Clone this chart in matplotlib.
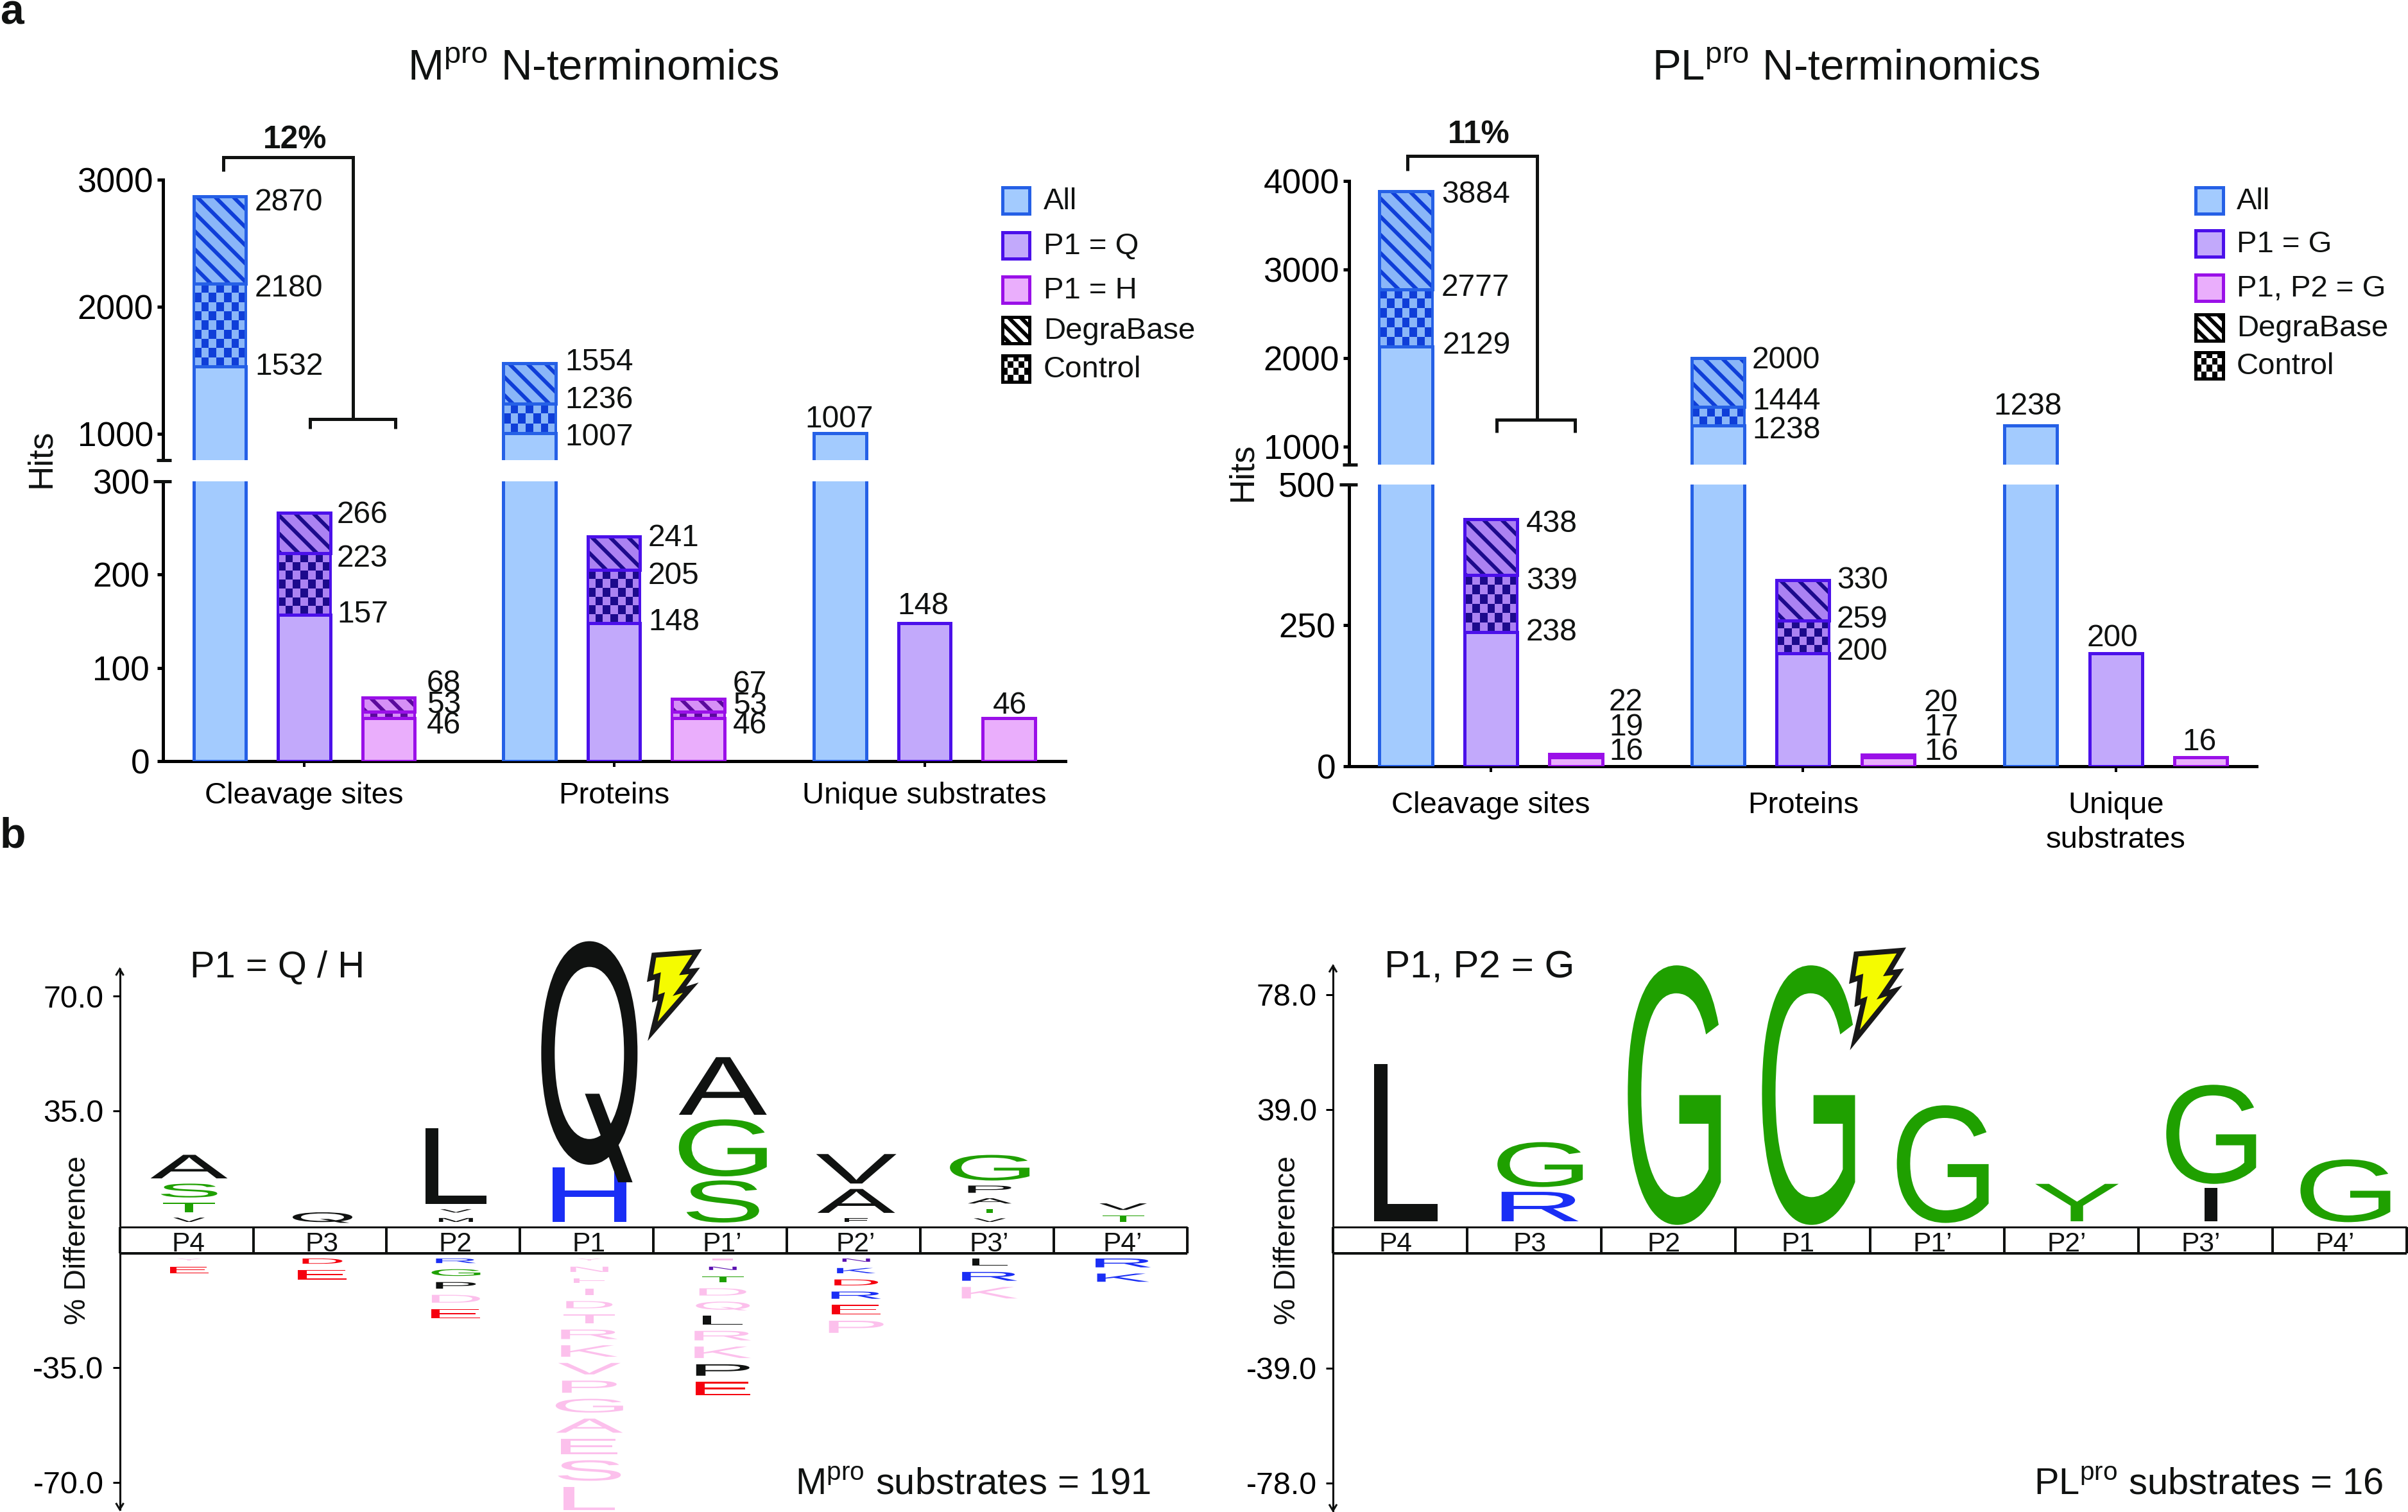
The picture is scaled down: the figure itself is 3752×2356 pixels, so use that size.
import matplotlib
matplotlib.use('Agg')
import matplotlib.pyplot as plt
import numpy as np
from matplotlib.colors import ListedColormap
from matplotlib.font_manager import FontProperties
from matplotlib.patches import PathPatch, Polygon, Rectangle
from matplotlib.textpath import TextPath
from matplotlib.transforms import Affine2D

W, H, DPI = 3752, 2356, 170
PT = 72 / DPI  # one pixel in points

plt.rcParams['font.family'] = ['Liberation Sans', 'DejaVu Sans']
plt.rcParams['mathtext.fontset'] = 'custom'
plt.rcParams['mathtext.rm'] = 'Liberation Sans'
plt.rcParams['hatch.linewidth'] = 6 * PT

# panel a values: one entry per bar, All / P1 / third bar in each group
categories_m = ['Cleavage sites', 'Proteins', 'Unique substrates']
categories_p = ['Cleavage sites', 'Proteins', 'Unique\nsubstrates']
m_base = [1532, 157, 46, 1007, 148, 46, 1007, 148, 46]
m_control = [2180, 223, 53, 1236, 205, 53, None, None, None]
m_degra = [2870, 266, 68, 1554, 241, 67, None, None, None]
p_base = [2129, 238, 16, 1238, 200, 16, 1238, 200, 16]
p_control = [2777, 339, 19, 1444, 259, 17, None, None, None]
p_degra = [3884, 438, 22, 2000, 330, 20, None, None, None]

legend_m = ['All', 'P1 = Q', 'P1 = H', 'DegraBase', 'Control']
legend_p = ['All', 'P1 = G', 'P1, P2 = G', 'DegraBase', 'Control']

# panel b logos, % difference per letter, stacked away from the position box
positions_m = ['P4', 'P3', 'P2', 'P1', 'P1’', 'P2’', 'P3’', 'P4’']
m_up_letters = ['VTSA', 'Q', 'MVL', 'HQ', 'SGA', 'FAV', 'VTAPG', 'TV']
m_up_colors = ['kggk', 'k', 'kkk', 'bk', 'ggk', 'kkk', 'kgkkg', 'gk']
m_up_heights = [[1.3, 2.9, 4.1, 7.2], [2.9], [1.2, 1.0, 23.1], [16.7, 66.5],
                [12.5, 16.9, 17.6], [1.1, 7.3, 9.0], [1.1, 1.2, 1.6, 2.2, 7.6], [2.0, 2.0]]
m_up_widths = [[49, 81, 88, 120], [93], [53, 49, 95], [115, 150],
               [113, 137, 137], [36, 121, 125], [50, 60, 68, 67, 124], [65, 74]]
m_down_letters = ['YE', 'DE', 'RGPDE', 'YNFIDTRKVPGAESL', 'INTDQLRKPE', 'NKDREP', 'LRK', 'RK']
m_down_colors = ['pr', 'rr', 'bgkpr', 'ppppppppppppppp', 'pugppkppkr', 'ubrbrp', 'kbp', 'bb']
m_down_heights = [[0.6, 2.0], [1.6, 2.9], [1.4, 2.0, 2.0, 2.4, 2.9],
                  [0.6, 1.6, 1.4, 1.8, 2.2, 2.7, 2.9, 3.5, 3.5, 3.7, 4.1, 4.3, 4.7, 6.1, 7.1],
                  [0.6, 1.0, 1.8, 2.2, 2.4, 2.7, 2.9, 3.5, 3.5, 4.1],
                  [1.0, 1.6, 1.8, 2.2, 2.9, 3.7], [2.2, 2.7, 3.5], [2.7, 2.5]]
m_down_widths = [[38, 60], [62, 76], [62, 76, 62, 75, 76],
                 [37, 59, 49, 13, 72, 80, 88, 88, 97, 85, 105, 104, 88, 98, 80],
                 [32, 43, 65, 73, 84, 62, 88, 88, 83, 85],
                 [43, 60, 68, 77, 76, 85], [55, 86, 87], [86, 81]]

p_up_letters = ['L', 'RG', 'G', 'G', 'G', 'Y', 'IG', 'G']
p_up_colors = ['k', 'bg', 'g', 'g', 'g', 'g', 'kg', 'g']
p_up_heights = [[53.3], [10.0, 14.8], [85.6], [85.6], [38.8], [12.7], [11.3, 32.7], [20.7]]
p_up_widths = [[99], [120, 133], [145], [145], [143], [130], [20, 140], [140]]

letter_colors = {'k': '#101211', 'g': '#1fa000', 'b': '#1a2ef5', 'r': '#f5000f',
                 'u': '#5a10b0', 'p': '#fcc0ec'}
fills = ['#a3cbfe', '#c2a9fb', '#eaaefc']
hatch_fills = ['#8ab6f8', '#ab82f2', '#d690f6']
edges = ['#2560e6', '#4b10ea', '#9a10e8']
darks = ['#0f3ed8', '#1c0a8c', '#5a0a9c']

fig = plt.figure(figsize=(W / DPI, H / DPI), dpi=DPI)


def add_axes_px(x0, y0, x1, y1):
    return fig.add_axes([x0 / W, 1 - y1 / H, (x1 - x0) / W, (y1 - y0) / H], facecolor='none')


overlay = fig.add_axes([0, 0, 1, 1], zorder=10)
overlay.set_axis_off()


def label(x, cy, s, size, ha='left', **kw):
    # cy is the middle of the capitals, in pixels
    overlay.text(x, cy + 0.358 * size / PT, s, fontsize=size, ha=ha, va='baseline', color='#101211', **kw)


def line(xs, ys, lw=5):
    overlay.plot(xs, ys, color='#101211', lw=lw * PT, solid_capstyle='butt', solid_joinstyle='miter')


def checker(ax, x0, x1, y0, y1, light, dark, cols, rows):
    cells = np.indices((rows, cols)).sum(axis=0) % 2
    ax.imshow(cells, extent=(x0, x1, y0, y1), origin='lower', aspect='auto', interpolation='nearest',
              cmap=ListedColormap([light, dark]), zorder=1)


def bar_panel(axis_x, right_x, group_px, spacing, base_y, low_top_y, low_top, break_y, up_bottom,
              up_top_y, up_top, low_ticks, up_ticks, base, control, degra, categories, cat_pad):
    to_x = lambda px: (px - group_px) / spacing
    groups = [0, 3.67, 7.35]
    low = add_axes_px(axis_x, low_top_y, right_x, base_y)
    up = add_axes_px(axis_x, up_top_y, right_x, break_y)
    scales = [(low, 0, low_top, (base_y - low_top_y) / low_top),
              (up, up_bottom, up_top, (break_y - up_top_y) / (up_top - up_bottom))]
    for ax, y_min, y_max, px_per in scales:
        for i, v in enumerate(base):
            kind = i % 3
            x = groups[i // 3] + kind - 1
            w = 0.62
            ax.bar(x, v, w, color=fills[kind], edgecolor=edges[kind], lw=5 * PT, zorder=3)
            if control[i] is None:
                continue
            if control[i] > y_min and v < y_max:
                rows = max(1, round((control[i] - v) * px_per / 14))
                checker(ax, x - w / 2, x + w / 2, v, control[i], hatch_fills[kind], darks[kind], 7, rows)
            ax.bar(x, control[i] - v, w, bottom=v, color='none', edgecolor=edges[kind], lw=4 * PT, zorder=3)
            ax.bar(x, degra[i] - control[i], w, bottom=control[i], color=hatch_fills[kind],
                   edgecolor=darks[kind], lw=0, hatch='\\\\', zorder=2)
            ax.bar(x, degra[i] - control[i], w, bottom=control[i], color='none',
                   edgecolor=edges[kind], lw=5 * PT, zorder=3)
        ax.set_xlim(to_x(axis_x), to_x(right_x))
        ax.set_ylim(y_min, y_max)
        for s in ['top', 'right']:
            ax.spines[s].set_visible(False)
        ax.spines['left'].set_linewidth(5 * PT)
        ax.spines['bottom'].set_linewidth(5 * PT)
        ax.tick_params(axis='y', labelsize=22.5, length=9 * PT, width=5 * PT, pad=6 * PT)
    up.spines['bottom'].set_visible(False)
    up.set_xticks([])
    up.set_yticks(up_ticks)
    low.set_yticks(low_ticks)
    low.tick_params(axis='y', pad=12 * PT)
    low.set_xticks(groups)
    low.set_xticklabels(categories, fontsize=20, linespacing=1.3)
    low.tick_params(axis='x', length=9 * PT, width=4 * PT, pad=cat_pad * PT)
    # break marks on the axis
    line([axis_x - 10, axis_x + 13], [break_y, break_y])
    line([axis_x - 15, axis_x + 13], [low_top_y, low_top_y])


bar_panel(254, 1660, 474, 131.5, 1186, 750, 300, 717, 793, 280, 3000,
          [0, 100, 200, 300], [1000, 2000, 3000], m_base, m_control, m_degra, categories_m, 23)
bar_panel(2102, 3516, 2323, 132.5, 1194, 755, 500, 723.5, 798, 282, 4000,
          [0, 250, 500], [1000, 2000, 3000, 4000], p_base, p_control, p_degra, categories_p, 30)

# value labels, each stack's label sits beside its bar (x, mid y in pixels)
m_label_xy = [(397, 567), (397, 445), (397, 311), (525, 953), (525, 866), (525, 798),
              (665, 1126), (665, 1094), (665, 1061), (880, 677), (880, 619), (880, 560),
              (1010, 965), (1010, 893), (1010, 834), (1142, 1126), (1142, 1095), (1142, 1062)]
m_label_vals = [m_base[0], m_control[0], m_degra[0], m_base[1], m_control[1], m_degra[1],
                m_base[2], m_control[2], m_degra[2], m_base[3], m_control[3], m_degra[3],
                m_base[4], m_control[4], m_degra[4], m_base[5], m_control[5], m_degra[5]]
p_label_xy = [(2248, 534), (2246, 444), (2246, 299), (2378, 981), (2378, 901), (2378, 812),
              (2507, 1167), (2507, 1129), (2507, 1090), (2730, 666), (2730, 621), (2730, 557),
              (2862, 1011), (2862, 961), (2862, 900), (2998, 1167), (2998, 1129), (2998, 1091)]
p_label_vals = [p_base[0], p_control[0], p_degra[0], p_base[1], p_control[1], p_degra[1],
                p_base[2], p_control[2], p_degra[2], p_base[3], p_control[3], p_degra[3],
                p_base[4], p_control[4], p_degra[4], p_base[5], p_control[5], p_degra[5]]
for (x, y), v in zip(m_label_xy + p_label_xy, m_label_vals + p_label_vals):
    label(x, y, str(v), 20.3)
for x, y, v in [(1308, 649, m_base[6]), (1438, 940, m_base[7]), (1573, 1095, m_base[8]),
                (3160, 629, p_base[6]), (3292, 990, p_base[7]), (3427, 1152, p_base[8])]:
    label(x, y, str(v), 20.3, ha='center')

label(924, 100, 'M$^{\\mathrm{pro}}$ N-terminomics', 28.5, ha='center')
label(2876, 100, 'PL$^{\\mathrm{pro}}$ N-terminomics', 28.5, ha='center')
label(0, 14, 'a', 28, fontweight='bold')
label(0, 1297, 'b', 28, fontweight='bold')
overlay.text(64, 714, 'Hits', fontsize=22.5, rotation=90, ha='center', va='center', color='#101211')
overlay.text(1936, 735, 'Hits', fontsize=22.5, rotation=90, ha='center', va='center', color='#101211')

# brackets
line([348, 348, 550, 550], [267, 245, 245, 653], 5)
line([483, 483, 616, 616], [668, 653, 653, 668], 5)
label(460, 213, '12%', 21, ha='center', fontweight='bold')
line([2193, 2193, 2395, 2395], [266, 243, 243, 654], 5)
line([2332, 2332, 2454, 2454], [674, 654, 654, 674], 5)
label(2304, 205, '11%', 21, ha='center', fontweight='bold')


def legend(x0, x1, text_x, ys, names):
    h = 41
    for i, (y, name) in enumerate(zip(ys, names)):
        if i < 3:
            overlay.add_patch(Rectangle((x0, y - h / 2), x1 - x0, h, fc=fills[i], ec=edges[i], lw=5 * PT))
        elif i == 3:
            overlay.add_patch(Rectangle((x0, y - h / 2), x1 - x0, h, fc='white', ec='black',
                                        lw=5 * PT, hatch='\\\\\\'))
        else:
            cells = np.indices((4, 5)).sum(axis=0) % 2
            overlay.imshow(cells, extent=(x0, x1, y + h / 2, y - h / 2), origin='upper', aspect='auto',
                           cmap='gray', interpolation='nearest')
            overlay.add_patch(Rectangle((x0, y - h / 2), x1 - x0, h, fc='none', ec='black', lw=5 * PT))
        label(text_x, y - 3, name, 20)


legend(1562, 1604, 1626, [312, 382, 451, 514, 574], legend_m)
legend(3421, 3464, 3485, [312, 379, 448, 510, 569], legend_p)


def draw_letter(ax, ch, center, bottom, width, height, color):
    # Liberation's Q has a long curled tail, the picture's has a short straight one
    prop = FontProperties(family='Inter' if ch == 'Q' else 'Liberation Sans')
    path = TextPath((0, 0), ch, size=1, prop=prop)
    cap = TextPath((0, 0), 'H', size=1, prop=prop).get_extents().height
    box = path.get_extents()
    tr = Affine2D().translate(-box.x0, 0).scale(width / box.width, height / cap).translate(center - width / 2, bottom)
    ax.add_patch(PathPatch(tr.transform_path(path), fc=color, lw=0, clip_on=False))


def logo_panel(axis_x, right_x, up_zero, down_zero, top_y, bottom_y, tick, px_per, shift, names,
               up, down, title_text, title_x, title_size, count_text, count_x, name_shift, diff_x):
    col = (right_x - axis_x) / 8
    ax_up = add_axes_px(axis_x, top_y, right_x, up_zero)
    ax_down = add_axes_px(axis_x, down_zero, right_x, bottom_y)
    ax_up.set_ylim(0, (up_zero - top_y) / px_per)
    ax_down.set_ylim(-(bottom_y - down_zero) / px_per, 0)
    for ax in (ax_up, ax_down):
        ax.set_xlim(0, 8)
        ax.set_xticks([])
        for s in ['top', 'right', 'bottom']:
            ax.spines[s].set_visible(False)
        ax.spines['left'].set_linewidth(3 * PT)
        ax.tick_params(axis='y', labelsize=20.5, length=11 * PT, width=3 * PT, pad=14 * PT)
    ax_up.set_yticks([tick, 2 * tick])
    ax_up.set_yticklabels([f'{tick:.1f}', f'{2 * tick:.1f}'])
    ax_down.set_yticks([-tick, -2 * tick])
    ax_down.set_yticklabels([f'{-tick:.1f}', f'{-2 * tick:.1f}'])

    letters, colors, heights, widths = up
    for i in range(8):
        y = 5 / px_per
        for ch, c, h, w in zip(letters[i], colors[i], heights[i], widths[i]):
            draw_letter(ax_up, ch, i + 0.5 + shift / col, y, w / col, h, letter_colors[c])
            y += h + 8.5 / px_per
    if down is not None:
        letters, colors, heights, widths = down
        for i in range(8):
            y = -8.5 / px_per
            for ch, c, h, w in zip(letters[i], colors[i], heights[i], widths[i]):
                draw_letter(ax_down, ch, i + 0.5 + shift / col, y - h, w / col, h, letter_colors[c])
                y -= h + 9.7 / px_per

    # position box and axis arrows
    line([axis_x, right_x], [1912, 1912], 3)
    line([axis_x, right_x], [1952.5, 1952.5], 4)
    for i in range(9):
        line([axis_x + i * col] * 2, [1912, 1952.5], 4)
    for i, name in enumerate(names):
        label(axis_x + (i + 0.5) * col + name_shift, 1935, name, 18, ha='center')
    line([axis_x, axis_x], [up_zero, down_zero], 3)
    line([axis_x - 6, axis_x, axis_x + 6], [top_y + 10, top_y, top_y + 10], 3)
    line([axis_x - 6, axis_x, axis_x + 6], [bottom_y - 10, bottom_y, bottom_y - 10], 3)
    overlay.text(diff_x, 1932, '% Difference', fontsize=19.5, rotation=90, ha='center', va='center',
                 color='#101211')
    label(title_x, 1502, title_text, title_size)
    label(count_x, 2307, count_text, 24.5, ha='right')


logo_panel(186.6, 1850, 1909, 1952.5, 1510, 2352, 35.0, 5.1, 4, positions_m,
           (m_up_letters, m_up_colors, m_up_heights, m_up_widths),
           (m_down_letters, m_down_colors, m_down_heights, m_down_widths),
           'P1 = Q / H', 296, 24.5, 'M$^{\\mathrm{pro}}$ substrates = 191', 1793, 3, 121)
logo_panel(2077, 3750, 1908, 1952.5, 1505, 2354, 39.0, 4.59, 9, positions_m,
           (p_up_letters, p_up_colors, p_up_heights, p_up_widths), None,
           'P1, P2 = G', 2157, 25.5, 'PL$^{\\mathrm{pro}}$ substrates = 16', 3713, -7, 2006)

# lightning bolts at the P1 cut
bolt_x = np.array([1019, 1086, 1066, 1082, 1058.6, 1076.3, 1017, 1030.4, 1020.7, 1025, 1013])
bolt_y = np.array([1488.4, 1483.5, 1514.6, 1512.8, 1544.5, 1539, 1607, 1552.4, 1556, 1520.7, 1524.4])
overlay.add_patch(Polygon(np.c_[bolt_x, bolt_y], fc='#f5fb00', ec='#181818', lw=8 * PT, joinstyle='miter'))
overlay.add_patch(Polygon(np.c_[2886 + (bolt_x - 1013) * 1.05, 1481 + (bolt_y - 1483.5) * 1.13],
                          fc='#f5fb00', ec='#181818', lw=8 * PT, joinstyle='miter'))

overlay.set_xlim(0, W)
overlay.set_ylim(H, 0)

fig.savefig('out.png', dpi=DPI)
plt.close(fig)
